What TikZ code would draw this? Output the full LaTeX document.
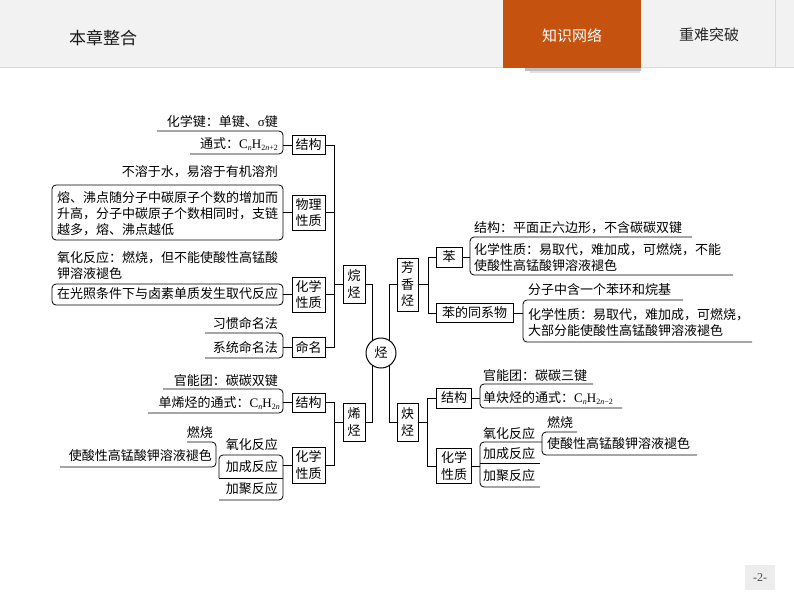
\documentclass[tikz,border=0pt]{standalone}
\usepackage{fontspec}
\setmainfont{Liberation Serif}
\newfontfamily\cjk{Noto Sans CJK SC}
\newfontfamily\lat{Liberation Serif}
\definecolor{hdrbg}{HTML}{F2F2F2}
\definecolor{tabcol}{HTML}{C5520F}
\newcommand\fsub[1]{\raisebox{-0.35ex}{\fontsize{8}{8}\selectfont #1}}
\begin{document}
\begin{tikzpicture}[x=1pt,y=-1pt,
  t/.style={font=\cjk\fontsize{13}{16}\selectfont, inner sep=0pt, text height=10.6pt, text depth=1.8pt},
  para/.style={font=\cjk\fontsize{13}{16}\selectfont, inner sep=0pt, align=left},
  cb/.style={draw, line width=1pt, inner sep=0pt, font=\cjk\fontsize{13}{16.5}\selectfont, align=center},
  ln/.style={line width=0.8pt},
  br/.style={line width=0.8pt, rounded corners=4pt}]
\useasboundingbox (0,0) rectangle (794,596);
% header
\fill[hdrbg] (0,0) rectangle (794,67);
\draw[black!15, line width=0.8pt] (0,67.5) -- (794,67.5);
\draw[black!15, line width=0.8pt] (775,0) -- (775,67);
\fill[black!25] (525,68) rectangle (641,71);
\fill[black!12] (530,71) rectangle (640,73);
\fill[tabcol] (503,0) rectangle (641,68);
\node[font=\cjk\fontsize{17}{17}\selectfont, text=black!90] (title) at (103,38) {本章整合};
\node[font=\cjk\fontsize{15}{15}\selectfont, text=white] (tab1) at (572,36) {知识网络};
\node[font=\cjk\fontsize{15}{15}\selectfont, text=black!85] (tab2) at (709,35) {重难突破};
% footer
\fill[black!7] (745,565) rectangle (775,590);
\node[font=\lat\fontsize{12}{12}\selectfont, text=black!70] (pg) at (760,578) {-2-};
% centre
\node[draw, circle, line width=1pt, minimum size=30pt, inner sep=0pt, font=\cjk\fontsize{13}{13}\selectfont] (c) at (381,353) {烃};
\node[cb, minimum width=22pt, minimum height=38pt] (wan) at (354,284) {烷\\烃};
\node[cb, minimum width=22pt, minimum height=38pt] (xi) at (354,422) {烯\\烃};
\node[cb, minimum width=21pt, minimum height=53pt] (fang) at (407.5,284.5) {芳\\香\\烃};
\node[cb, minimum width=21pt, minimum height=38pt] (que) at (407.5,422) {炔\\烃};
\draw[ln] (wan.east) -| (c.122);
\draw[ln] (xi.east) -| (c.238);
\draw[ln] (fang.west) -| (c.58);
\draw[ln] (que.west) -| (c.302);
% ---------- left: alkanes
\coordinate (sA) at (334,0);
\node[cb, minimum width=33pt, minimum height=19pt] (a1) at (308.5,145) {结构};
\node[cb, minimum width=33pt, minimum height=35pt] (a2) at (308.5,212.5) {物理\\性质};
\node[cb, minimum width=33pt, minimum height=35pt] (a3) at (308.5,294.5) {化学\\性质};
\node[cb, minimum width=33pt, minimum height=20pt] (a4) at (308.5,347) {命名};
\draw[ln] (a1.east) -| (sA |- a4.east) -- (a4.east);
\draw[ln] (a2.east) -- (a2.east -| sA);
\draw[ln] (a3.east) -- (a3.east -| sA);
\draw[ln] (wan.west) -- (wan.west -| sA);
% structure
\node[t, anchor=east] (a1t1) at (278,122) {化学键：单键、{\lat σ}键};
\node[t, anchor=east] (a1t2) at (278,144) {通式：{\lat C\fsub{\textit{n}}H\fsub{2\textit{n}+2}}};
\draw[br] (157,131) -- (283,131) -- (283,154) -- (190,154);
\coordinate (ba1) at (283,145);
\draw[ln] (ba1) -- (a1.west);
% physical
\node[t, anchor=east] (a2t1) at (278,172) {不溶于水，易溶于有机溶剂};
\draw[br] (52,185) rectangle (283,240);
\node[para, anchor=west] (a2t2) at (57,214) {熔、沸点随分子中碳原子个数的增加而\\升高，分子中碳原子个数相同时，支链\\越多，熔、沸点越低};
\coordinate (ba2) at (283,212.5);
\draw[ln] (ba2) -- (a2.west);
% chemical
\node[t, anchor=west] (a3t1) at (57,258) {氧化反应：燃烧，但不能使酸性高锰酸};
\node[t, anchor=west] (a3t2) at (57,274) {钾溶液褪色};
\draw[br] (52,284) rectangle (283,305);
\node[t, anchor=west] (a3t3) at (57,294.5) {在光照条件下与卤素单质发生取代反应};
\coordinate (ba3) at (283,294.5);
\draw[ln] (ba3) -- (a3.west);
% naming
\node[t, anchor=east] (a4t1) at (278,324) {习惯命名法};
\node[t, anchor=east] (a4t2) at (278,348) {系统命名法};
\draw[br] (205,333) -- (283,333) -- (283,358) -- (205,358);
\coordinate (ba4) at (283,347);
\draw[ln] (ba4) -- (a4.west);
% ---------- left: alkenes
\coordinate (sB) at (334,0);
\node[cb, minimum width=33pt, minimum height=19pt] (b1) at (308.5,402.5) {结构};
\node[cb, minimum width=33pt, minimum height=36pt] (b2) at (308.5,465) {化学\\性质};
\draw[ln] (b1.east) -| (sB |- b2.east) -- (b2.east);
\draw[ln] (xi.west) -- (xi.west -| sB);
\node[t, anchor=east] (b1t1) at (278,381) {官能团：碳碳双键};
\node[t, anchor=east] (b1t2) at (280,403) {单烯烃的通式：{\lat C\fsub{\textit{n}}H\fsub{2\textit{n}}}};
\draw[br] (163,389) -- (283,389) -- (283,413) -- (148,413);
\coordinate (bb1) at (283,402.5);
\draw[ln] (bb1) -- (b1.west);
\node[t, anchor=east] (b2t1) at (278,445) {氧化反应};
\node[t, anchor=east] (b2t2) at (278,467) {加成反应};
\node[t, anchor=east] (b2t3) at (278,489) {加聚反应};
\draw[br] (219,478) -- (219,455) -- (283,455) -- (283,500) -- (219,500);
\draw[ln] (219,478) -- (283,478);
\coordinate (bb2) at (283,465);
\draw[ln] (bb2) -- (b2.west);
\node[t, anchor=east] (b2t4) at (213,433) {燃烧};
\node[t, anchor=east] (b2t5) at (212,456) {使酸性高锰酸钾溶液褪色};
\draw[br] (187,442) -- (216,442) -- (216,467) -- (60,467);
% ---------- right: aromatics
\coordinate (sC) at (428,0);
\node[cb, minimum width=26pt, minimum height=20pt] (c1) at (449,257) {苯};
\node[cb, minimum width=77pt, minimum height=19pt] (c2) at (474.5,313) {苯的同系物};
\draw[ln] (c1.west) -| (sC |- c2.west) -- (c2.west);
\draw[ln] (fang.east) -- (fang.east -| sC);
\node[t, anchor=west] (c1t1) at (474,228) {结构：平面正六边形，不含碳碳双键};
\node[t, anchor=west] (c1t2) at (474,250) {化学性质：易取代，难加成，可燃烧，不能};
\node[t, anchor=west] (c1t3) at (474,266) {使酸性高锰酸钾溶液褪色};
\draw[br] (692,237) -- (470,237) -- (470,275) -- (733,275);
\coordinate (bc1) at (470,257);
\draw[ln] (c1.east) -- (bc1);
\node[t, anchor=west] (c2t1) at (528,290) {分子中含一个苯环和烷基};
\node[t, anchor=west] (c2t2) at (528,315) {化学性质：易取代，难加成，可燃烧，};
\node[t, anchor=west] (c2t3) at (528,331) {大部分能使酸性高锰酸钾溶液褪色};
\draw[br] (683,300) -- (523,300) -- (523,342) -- (752,342);
\coordinate (bc2) at (523,313);
\draw[ln] (c2.east) -- (bc2);
% ---------- right: alkynes
\coordinate (sD) at (427,0);
\node[cb, minimum width=35pt, minimum height=20pt] (d1) at (454,398) {结构};
\node[cb, minimum width=35pt, minimum height=35pt] (d2) at (454,466) {化学\\性质};
\draw[ln] (d1.west) -| (sD |- d2.west) -- (d2.west);
\draw[ln] (que.east) -- (que.east -| sD);
\node[t, anchor=west] (d1t1) at (483,376) {官能团：碳碳三键};
\node[t, anchor=west] (d1t2) at (483,398) {单炔烃的通式：{\lat C\fsub{\textit{n}}H\fsub{2\textit{n}−2}}};
\draw[br] (593,384) -- (480,384) -- (480,408) -- (622,408);
\coordinate (bd1) at (480,398);
\draw[ln] (d1.east) -- (bd1);
\node[t, anchor=west] (d2t1) at (483,434) {氧化反应};
\node[t, anchor=west] (d2t2) at (483,454) {加成反应};
\node[t, anchor=west] (d2t3) at (483,476) {加聚反应};
\draw[br] (542,442) -- (480,442) -- (480,487) -- (540,487);
\draw[ln] (480,463) -- (540,463);
\coordinate (bd2) at (480,466);
\draw[ln] (d2.east) -- (bd2);
\node[t, anchor=west] (d2t4) at (547,423) {燃烧};
\node[t, anchor=west] (d2t5) at (547,444) {使酸性高锰酸钾溶液褪色};
\draw[br] (577,432) -- (542,432) -- (542,455) -- (697,455);
\end{tikzpicture}
\end{document}
